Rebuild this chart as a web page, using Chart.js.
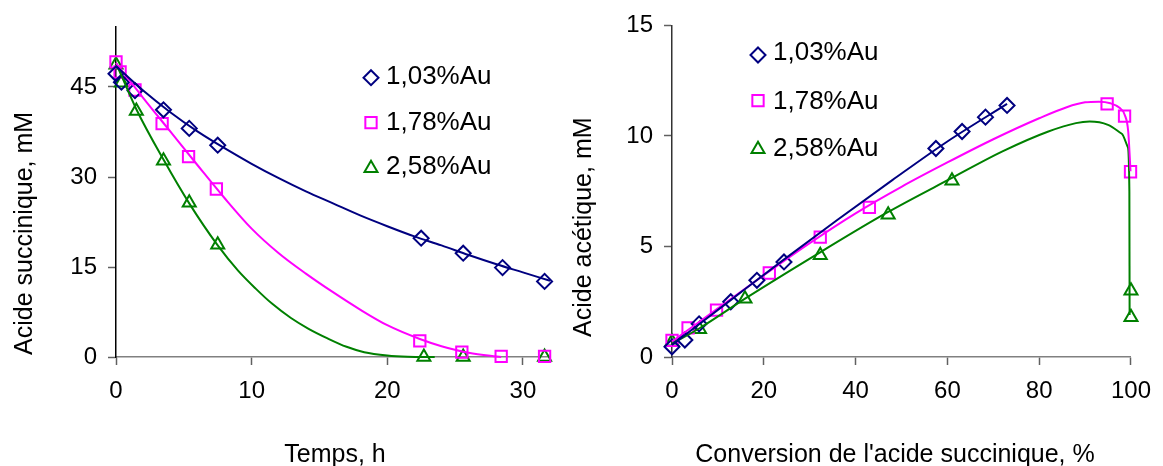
<!DOCTYPE html>
<html>
<head>
<meta charset="utf-8">
<script src="https://cdn.jsdelivr.net/npm/chart.js@4/dist/chart.umd.min.js"></script>
<style>
  html, body { margin: 0; padding: 0; background: #fff; }
  #wrap { position: relative; width: 1163px; height: 466px; overflow: hidden; }
  canvas { position: absolute; top: 0; }
  #left { left: 0; }
  #right { left: 560px; }
</style>
</head>
<body>
<div id="wrap">
  <canvas id="left" width="560" height="466"></canvas>
  <canvas id="right" width="603" height="466"></canvas>
</div>
<script>
// ---- series ----
const seriesLabels = ['1,03%Au', '1,78%Au', '2,58%Au'];

// ---- left chart: acide succinique (mM) vs temps (h) ----
const timeBlue  = [0, 0.4, 1.4, 3.5, 5.4, 7.5, 22.5, 25.6, 28.5, 31.6];
const succBlue  = [47.2, 45.8, 44.4, 41.2, 38.1, 35.3, 19.8, 17.3, 14.9, 12.6];
const timePink  = [0, 0.3, 1.4, 3.4, 5.35, 7.4, 22.4, 25.5, 28.4, 31.6];
const succPink  = [49.2, 47.5, 44.5, 38.9, 33.4, 28.0, 2.7, 0.8, 0.1, 0.1];
const timeGreen = [0, 0.4, 1.5, 3.5, 5.4, 7.5, 22.7, 25.6, 31.6];
const succGreen = [48.7, 45.7, 41.0, 32.7, 25.7, 18.7, 0, 0, 0];

// fitted curves
const fitTimeBlue  = [0, 2, 4, 6, 8, 10, 12, 14, 16, 18, 20, 22, 24, 26, 28, 30, 32];
const fitSuccBlue  = [48.5, 44.4, 40.8, 37.6, 34.8, 32.2, 29.8, 27.6, 25.6, 23.6, 21.8, 20.1, 18.6, 17.0, 15.5, 14.1, 12.7];
const fitTimePink  = [0, 2, 4, 6, 8, 10, 12, 14, 16, 18, 20, 22.4, 24, 26, 28.4];
const fitSuccPink  = [49.0, 43.2, 37.6, 32.0, 26.5, 21.4, 17.3, 13.9, 10.8, 7.9, 5.3, 3.0, 1.8, 0.7, 0];
const fitTimeGreen = [0, 1.5, 3.5, 5.4, 7.5, 9, 10.3, 11.5, 12.9, 14.2, 15.6, 17, 18.3, 20, 21.5, 23.5];
const fitSuccGreen = [49.0, 41.3, 32.9, 25.6, 18.6, 14.4, 11.4, 8.9, 6.5, 4.7, 3.1, 1.7, 0.8, 0.25, 0.05, 0];

const leftXTicks = [0, 10, 20, 30];
const leftYTicks = [0, 15, 30, 45];

// ---- right chart: acide acetique (mM) vs conversion (%) ----
const convBlue  = [0, 2.8, 5.9, 12.8, 18.5, 24.4, 57.5, 63.2, 68.3, 73.0];
const acetBlue  = [0.46, 0.77, 1.5, 2.5, 3.47, 4.3, 9.43, 10.2, 10.85, 11.38];
const convPink  = [0, 3.5, 9.7, 21.2, 32.3, 43.0, 94.8, 98.6, 99.9];
const acetPink  = [0.75, 1.32, 2.12, 3.8, 5.42, 6.77, 11.45, 10.9, 8.38];
const convGreen = [0, 6.0, 15.9, 32.3, 47.1, 61.0, 100, 100];
const acetGreen = [0.69, 1.26, 2.64, 4.6, 6.44, 7.97, 3.0, 1.8];

const fitConvBlue  = [0, 12, 24, 36, 48, 60, 73];
const fitAcetBlue  = [0.55, 2.45, 4.35, 6.2, 8.0, 9.75, 11.45];
const fitConvPink  = [0, 10, 20, 30, 40, 50, 60, 70, 80, 86, 90, 93, 95.5, 97.5, 98.6, 99.4, 99.9];
const fitAcetPink  = [0.7, 2.2, 3.7, 5.15, 6.5, 7.7, 8.8, 9.85, 10.8, 11.3, 11.52, 11.55, 11.48, 11.27, 10.97, 10.2, 8.4];
const fitConvGreen = [0, 6, 16, 32, 47, 61, 72, 82, 88, 91, 95, 98, 99.3, 99.65, 99.7];
const fitAcetGreen = [0.6, 1.3, 2.65, 4.7, 6.55, 8.1, 9.3, 10.2, 10.58, 10.65, 10.5, 10.1, 9.5, 7.5, 1.9];

const rightXTicks = [0, 20, 40, 60, 80, 100];
const rightYTicks = [0, 5, 10, 15];

// ---- styles ----
const colors = ['#000080', '#FF00FF', '#008000'];
const markers = ['rectRot', 'rect', 'triangle'];
const markerSize = [7.5, 8, 7.5];
const FONT = '"Liberation Sans", Arial, sans-serif';
Chart.defaults.font.family = FONT;
Chart.defaults.color = '#000';

function pts(xs, ys) {
  return xs.map((x, i) => ({ x: x, y: ys[i] }));
}

function markerSet(i, xs, ys) {
  return {
    label: seriesLabels[i],
    data: pts(xs, ys),
    showLine: false,
    pointStyle: markers[i],
    pointRadius: markerSize[i],
    pointHoverRadius: markerSize[i],
    pointBorderWidth: 2,
    pointBorderColor: colors[i],
    pointBackgroundColor: 'rgba(0,0,0,0)',
    clip: false
  };
}

function curveSet(i, xs, ys) {
  return {
    label: seriesLabels[i] + ' fit',
    data: pts(xs, ys),
    showLine: true,
    pointRadius: 0,
    borderColor: colors[i],
    borderWidth: 2,
    cubicInterpolationMode: 'monotone',
    fill: false,
    clip: false
  };
}

function drawMarker(ctx, style, x, y, r, color) {
  ctx.save();
  ctx.strokeStyle = color;
  ctx.lineWidth = 2;
  ctx.beginPath();
  if (style === 'rectRot') {
    ctx.moveTo(x, y - r); ctx.lineTo(x + r, y); ctx.lineTo(x, y + r); ctx.lineTo(x - r, y);
    ctx.closePath();
  } else if (style === 'rect') {
    const s = r * Math.SQRT1_2;
    ctx.rect(x - s, y - s, 2 * s, 2 * s);
  } else {
    const a = Math.PI * 2 / 3;
    ctx.moveTo(x, y - r);
    ctx.lineTo(x + Math.sin(a) * r, y - Math.cos(a) * r);
    ctx.lineTo(x + Math.sin(2 * a) * r, y - Math.cos(2 * a) * r);
    ctx.closePath();
  }
  ctx.stroke();
  ctx.restore();
}

// axis titles + legend drawn at fixed spots, like the Excel original
const decoPlugin = {
  id: 'deco',
  afterDraw(chart, args, opts) {
    const ctx = chart.ctx;
    ctx.save();
    ctx.fillStyle = '#000';
    ctx.font = opts.titleSize + 'px ' + FONT;
    ctx.textBaseline = 'alphabetic';
    // x title
    ctx.textAlign = 'center';
    ctx.fillText(opts.xTitle, opts.xTitleX, opts.xTitleY);
    // y title (rotated)
    ctx.save();
    ctx.translate(opts.yTitleX, opts.yTitleY);
    ctx.rotate(-Math.PI / 2);
    ctx.textAlign = 'left';
    ctx.fillText(opts.yTitle, 0, 0);
    ctx.restore();
    // legend
    ctx.font = opts.legendSize + 'px ' + FONT;
    ctx.textAlign = 'left';
    seriesLabels.forEach((lab, i) => {
      drawMarker(ctx, markers[i], opts.legendMarkX, opts.legendMarkY[i], markerSize[i], colors[i]);
      ctx.fillText(lab, opts.legendTextX, opts.legendTextY[i]);
    });
    ctx.restore();
  }
};

function axis(min, max, ticks, border, width, height) {
  return {
    type: 'linear',
    min: min,
    max: max,
    afterBuildTicks: (s) => { s.ticks = ticks.map(v => ({ value: v })); },
    afterFit: (s) => {
      if (width !== null) s.width = width;
      if (height !== null) s.height = height;
    },
    border: { display: true, color: border, width: 1.5 },
    grid: { display: true, drawOnChartArea: false, drawTicks: true, tickLength: 8, tickColor: '#606060', tickWidth: 1.5 },
    ticks: { font: { size: 24 }, color: '#000', padding: width !== null ? 11 : 12, maxRotation: 0, autoSkip: false },
    title: { display: false }
  };
}

function makeChart(id, datasets, xs, ys, padding, deco) {
  return new Chart(document.getElementById(id), {
    type: 'scatter',
    data: { datasets: datasets },
    options: {
      responsive: false,
      animation: false,
      events: [],
      layout: { padding: padding },
      scales: { x: xs, y: ys },
      plugins: { legend: { display: false }, tooltip: { enabled: false }, deco: deco }
    },
    plugins: [decoPlugin]
  });
}

makeChart('left', [
    curveSet(0, fitTimeBlue, fitSuccBlue),
    curveSet(1, fitTimePink, fitSuccPink),
    curveSet(2, fitTimeGreen, fitSuccGreen),
    markerSet(0, timeBlue, succBlue),
    markerSet(1, timePink, succPink),
    markerSet(2, timeGreen, succGreen)
  ],
  axis(0, 32, leftXTicks, '#808080', null, 109),
  axis(0, 55, leftYTicks, '#000', 116, null),
  { top: 27, right: 7, left: 0, bottom: 0 },
  {
    titleSize: 25, legendSize: 26,
    xTitle: 'Temps, h', xTitleX: 335, xTitleY: 462,
    yTitle: 'Acide succinique, mM', yTitleX: 32, yTitleY: 355,
    legendMarkX: 371, legendMarkY: [77.7, 122.7, 168.3],
    legendTextX: 386, legendTextY: [83.5, 130.1, 173.5]
  });

makeChart('right', [
    curveSet(0, fitConvBlue, fitAcetBlue),
    curveSet(1, fitConvPink, fitAcetPink),
    curveSet(2, fitConvGreen, fitAcetGreen),
    markerSet(0, convBlue, acetBlue),
    markerSet(1, convPink, acetPink),
    markerSet(2, convGreen, acetGreen)
  ],
  axis(0, 100, rightXTicks, '#808080', null, 109),
  axis(0, 15, rightYTicks, '#333', 112, null),
  { top: 24, right: 25, left: 0, bottom: 0 },
  {
    titleSize: 25, legendSize: 26,
    xTitle: "Conversion de l'acide succinique, %", xTitleX: 335, xTitleY: 462,
    yTitle: 'Acide acétique, mM', yTitleX: 31, yTitleY: 337,
    legendMarkX: 198, legendMarkY: [55, 100.7, 149.3],
    legendTextX: 213, legendTextY: [60.3, 109.3, 156]
  });
</script>
</body>
</html>
